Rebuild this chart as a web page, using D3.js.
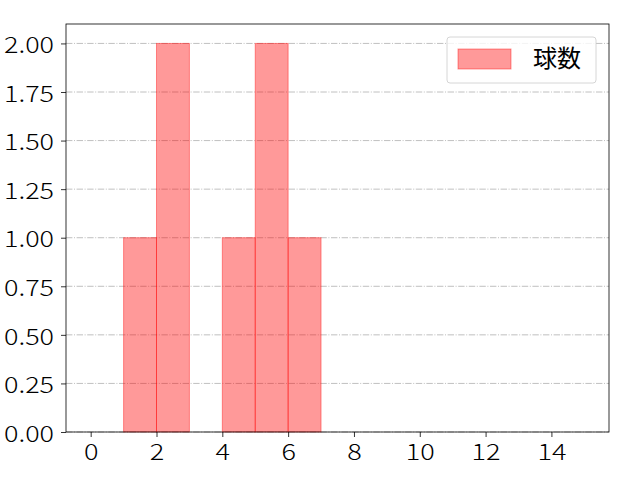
<!DOCTYPE html>
<html>
<head>
<meta charset="utf-8">
<script src="https://cdn.jsdelivr.net/npm/d3@7"></script>
<style>
  body { margin: 0; background: #fff; }
  text { font-family: "Noto Sans CJK JP", "DejaVu Sans", sans-serif; }
</style>
</head>
<body>
<div id="chart"></div>
<script>
// histogram bins (left edge, right edge) and counts
const binStarts = [1, 2, 4, 5, 6];
const binEnds = [2, 3, 5, 6, 7];
const counts = [1, 2, 1, 2, 1];
const seriesName = '球数';
const xTicks = [0, 2, 4, 6, 8, 10, 12, 14];
const yTicks = [0, 0.25, 0.5, 0.75, 1.0, 1.25, 1.5, 1.75, 2.0];

const width = 640, height = 480;
const margin = {top: 24, right: 31, bottom: 48, left: 66};
const x0 = margin.left, x1 = width - margin.right;
const y0 = height - margin.bottom, y1 = margin.top;
const font = '"Noto Sans CJK JP", "DejaVu Sans", sans-serif';

const svg = d3.select('#chart').append('svg')
  .attr('width', width).attr('height', height);

const x = d3.scaleLinear().domain([-0.75, 15.75]).range([x0, x1]);
const y = d3.scaleLinear().domain([0, 2.1]).range([y0, y1]);

// grid lines (horizontal only)
svg.append('g')
  .selectAll('line')
  .data(yTicks)
  .join('line')
  .attr('x1', x0).attr('x2', x1)
  .attr('y1', d => y(d)).attr('y2', d => y(d))
  .attr('stroke', '#b0b0b0')
  .attr('stroke-width', 0.8)
  .attr('stroke-dasharray', '6.4,1.6,1,1.6');

// bars
const bins = binStarts.map((s, i) => ({s, e: binEnds[i], c: counts[i]}));
svg.append('g')
  .selectAll('rect')
  .data(bins)
  .join('rect')
  .attr('x', d => x(d.s))
  .attr('y', d => y(d.c))
  .attr('width', d => x(d.e) - x(d.s))
  .attr('height', d => y(0) - y(d.c))
  .attr('fill', 'rgba(255,0,0,0.4)')
  .attr('stroke', 'rgba(255,0,0,0.4)')
  .attr('stroke-width', 1);

// axes
const xAxis = svg.append('g')
  .attr('transform', `translate(0,${y0})`)
  .call(d3.axisBottom(x).tickValues(xTicks).tickSize(5).tickPadding(7).tickFormat(d3.format('d')));
const yAxis = svg.append('g')
  .attr('transform', `translate(${x0},0)`)
  .call(d3.axisLeft(y).tickValues(yTicks).tickSize(5).tickPadding(7).tickFormat(d3.format('.2f')));
[xAxis, yAxis].forEach(a => {
  a.select('.domain').remove();
  a.attr('font-size', null).attr('font-family', null);
  a.selectAll('text')
    .style('font-size', '22px')
    .style('font-weight', '300')
    .style('font-family', font)
    .attr('fill', '#000');
  a.selectAll('line').attr('stroke', '#000').attr('stroke-width', 0.8);
});
xAxis.selectAll('text')
  .attr('textLength', d => 14.5 * String(d).length)
  .attr('lengthAdjust', 'spacingAndGlyphs');
yAxis.selectAll('text')
  .attr('dy', '0.42em')
  .attr('textLength', 50)
  .attr('lengthAdjust', 'spacingAndGlyphs');

// frame
svg.append('rect')
  .attr('x', x0).attr('y', y1)
  .attr('width', x1 - x0).attr('height', y0 - y1)
  .attr('fill', 'none').attr('stroke', '#000').attr('stroke-width', 0.8);

// legend
const lg = svg.append('g').attr('transform', 'translate(447,37)');
lg.append('rect')
  .attr('width', 149).attr('height', 46).attr('rx', 3)
  .attr('fill', 'rgba(255,255,255,0.8)')
  .attr('stroke', '#cccccc').attr('stroke-width', 0.8);
lg.append('rect')
  .attr('x', 11).attr('y', 12).attr('width', 53).attr('height', 20)
  .attr('fill', 'rgba(255,0,0,0.4)')
  .attr('stroke', 'rgba(255,0,0,0.4)');
lg.append('text')
  .attr('x', 86).attr('y', 30)
  .style('font-size', '24px')
  .style('font-weight', '400')
  .text(seriesName);
</script>
</body>
</html>
